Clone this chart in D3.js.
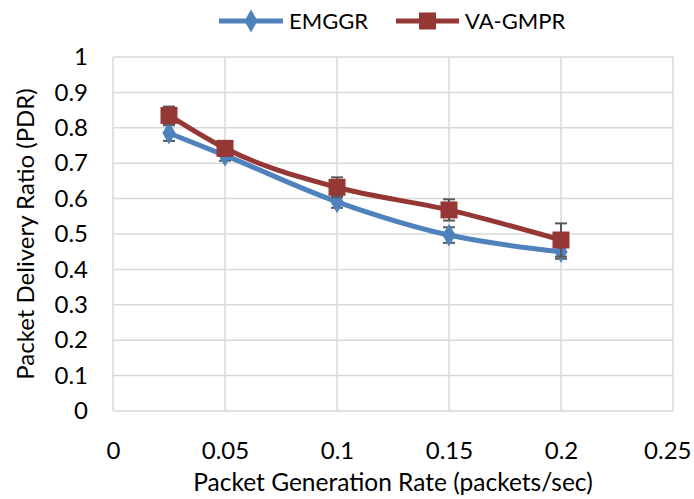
<!DOCTYPE html>
<html><head><meta charset="utf-8">
<script src="https://cdn.jsdelivr.net/npm/d3@7"></script>
<style>body{margin:0;background:#fff;} svg{display:block;} text{font-family:Lato,"Open Sans",sans-serif;fill:#000;}</style>
</head><body>
<svg id="c" width="694" height="499"></svg>
<script>
const xValues = [0.025, 0.05, 0.1, 0.15, 0.2];
const emggr = [0.785, 0.722, 0.591, 0.497, 0.45];
const emggrErr = [0.022, 0.015, 0.017, 0.022, 0.02];
const vagmpr = [0.835, 0.742, 0.632, 0.568, 0.483];
const vagmprErr = [0.025, 0.02, 0.028, 0.03, 0.047];
const xTicks = [0, 0.05, 0.1, 0.15, 0.2, 0.25];
const yTicks = [0, 0.1, 0.2, 0.3, 0.4, 0.5, 0.6, 0.7, 0.8, 0.9, 1];
const seriesNames = ["EMGGR", "VA-GMPR"];
const colors = ["#4F81BD", "#953735"];

const svg = d3.select("#c");
const x = d3.scaleLinear().domain([0, 0.25]).range([113, 673]);
const y = d3.scaleLinear().domain([0, 1]).range([411, 57]);

const grid = svg.append("g");
grid.selectAll("line.h").data(yTicks).join("line")
  .attr("x1", x(0)).attr("x2", x(0.25)).attr("y1", d => y(d)).attr("y2", d => y(d))
  .attr("stroke", "#d9d9d9").attr("stroke-width", 1.5);
grid.selectAll("line.v").data(xTicks).join("line")
  .attr("y1", y(0)).attr("y2", y(1)).attr("x1", d => x(d)).attr("x2", d => x(d))
  .attr("stroke", "#d9d9d9").attr("stroke-width", 1.5);

const xAxis = svg.append("g").attr("transform", `translate(0,${y(0)})`)
  .call(d3.axisBottom(x).tickValues(xTicks).tickSize(0).tickPadding(31).tickFormat(d => String(d)));
const yAxis = svg.append("g").attr("transform", `translate(${x(0)},0)`)
  .call(d3.axisLeft(y).tickValues(yTicks).tickSize(0).tickPadding(25).tickFormat(d => String(d)));
[xAxis, yAxis].forEach(a => {
  a.select(".domain").remove();
  a.selectAll("text").attr("font-size", 24).attr("font-family", "Lato, sans-serif").attr("fill", "#000");
});
// keep the last x tick label inside the picture
xAxis.selectAll(".tick").filter(d => d === 0.25).select("text")
  .attr("text-anchor", "end").attr("x", 691 - x(0.25));

svg.append("text").attr("x", 393).attr("y", 491).attr("text-anchor", "middle")
  .attr("font-size", 24.5).text("Packet Generation Rate (packets/sec)");
svg.append("text").attr("transform", "translate(34,234) rotate(-90)").attr("text-anchor", "middle")
  .attr("font-size", 24).text("Packet Delivery Ratio (PDR)");

const line = d3.line().x(d => x(d[0])).y(d => y(d[1])).curve(d3.curveMonotoneX);
const data = [
  xValues.map((v, i) => [v, emggr[i], emggrErr[i]]),
  xValues.map((v, i) => [v, vagmpr[i], vagmprErr[i]])
];
const diamond = d3.symbol().type(d3.symbolDiamond).size(150);

data.forEach((ser, si) => {
  const g = svg.append("g");
  ser.forEach(d => {
    const eb = g.append("g").attr("stroke", "#595959").attr("stroke-width", 2);
    eb.append("line").attr("x1", x(d[0])).attr("x2", x(d[0])).attr("y1", y(d[1] - d[2])).attr("y2", y(d[1] + d[2]));
    [d[1] - d[2], d[1] + d[2]].forEach(v => eb.append("line")
      .attr("x1", x(d[0]) - 6).attr("x2", x(d[0]) + 6).attr("y1", y(v)).attr("y2", y(v)));
  });
  g.append("path").datum(ser).attr("d", line).attr("fill", "none")
    .attr("stroke", colors[si]).attr("stroke-width", 5).attr("stroke-linejoin", "round");
  if (si === 0) {
    g.selectAll("path.m").data(ser).join("path").attr("d", diamond)
      .attr("transform", d => `translate(${x(d[0])},${y(d[1])})`).attr("fill", colors[si]);
  } else {
    g.selectAll("rect.m").data(ser).join("rect")
      .attr("x", d => x(d[0]) - 8.5).attr("y", d => y(d[1]) - 8.5)
      .attr("width", 17).attr("height", 17).attr("fill", colors[si]);
  }
});

const leg = svg.append("g");
const legItems = [{x1: 219, x2: 283, tx: 289}, {x1: 396, x2: 459, tx: 465}];
legItems.forEach((it, i) => {
  leg.append("line").attr("x1", it.x1).attr("x2", it.x2).attr("y1", 21).attr("y2", 21)
    .attr("stroke", colors[i]).attr("stroke-width", 5);
  const cx = (it.x1 + it.x2) / 2;
  if (i === 0) leg.append("path").attr("d", diamond).attr("transform", `translate(${cx},21)`).attr("fill", colors[i]);
  else leg.append("rect").attr("x", cx - 8.5).attr("y", 12.5).attr("width", 17).attr("height", 17).attr("fill", colors[i]);
  leg.append("text").attr("x", it.tx).attr("y", 29).attr("font-size", 22).text(seriesNames[i]);
});
</script>
</body></html>
